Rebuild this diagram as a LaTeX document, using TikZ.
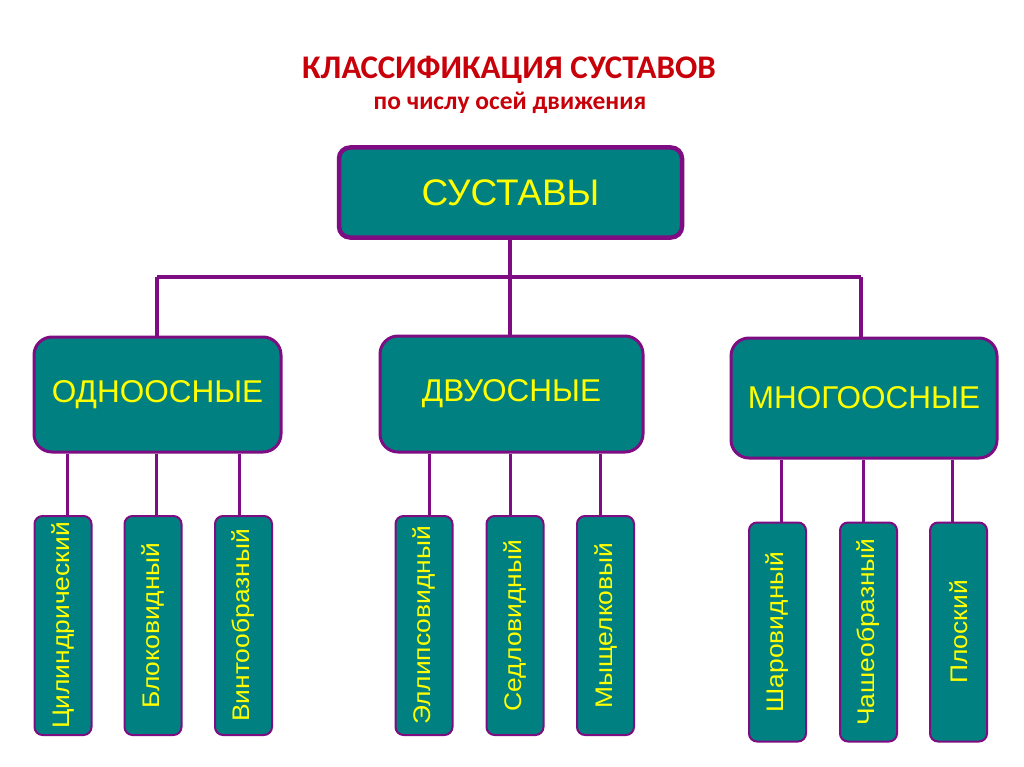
\documentclass[tikz,border=0pt]{standalone}
\usepackage{fontspec}
\setmainfont{Liberation Sans}
\newfontfamily\titlefont{Carlito}
\definecolor{tealfill}{HTML}{008080}
\definecolor{purpline}{HTML}{7E0C82}
\definecolor{txtyellow}{HTML}{FFFF00}
\definecolor{titlered}{HTML}{C8000A}
\tikzset{
  rootbox/.style={draw=purpline, line width=4.5pt, fill=tealfill, rounded corners=11pt,
    minimum width=343pt, minimum height=90pt, inner sep=0pt, text=txtyellow,
    font=\fontsize{37}{37}\selectfont},
  midbox/.style={draw=purpline, line width=3pt, fill=tealfill, rounded corners=18pt,
    inner sep=0pt, text=txtyellow, font=\fontsize{31.5}{32}\selectfont},
  leafbox/.style={draw=purpline, line width=2pt, fill=tealfill, rounded corners=8pt,
    minimum width=57pt, minimum height=219pt, inner sep=0pt, text=txtyellow,
    font=\fontsize{24}{24}\selectfont},
  conn/.style={draw=purpline, line width=3.5pt},
  leafconn/.style={draw=purpline, line width=3pt},
}
\newcommand{\vtext}[1]{\rotatebox{90}{\scalebox{1.1}[1]{#1}}}
\begin{document}
\begin{tikzpicture}[x=1pt,y=-1pt]
\useasboundingbox[fill=white] (0,0) rectangle (1024,767);
% titles
\node[text=titlered, font=\titlefont\bfseries\fontsize{33}{33}\selectfont] (title) at (509,70) {КЛАССИФИКАЦИЯ СУСТАВОВ};
\node[text=titlered, font=\titlefont\bfseries\fontsize{25.5}{25.5}\selectfont] (subtitle) at (510,103) {по числу осей движения};
% root
\node[rootbox] (root) at (510.5,192.5) {СУСТАВЫ};
% level 2
\node[midbox, minimum width=247pt, minimum height=115pt] (odno) at (157.5,394.5) {ОДНООСНЫЕ};
\node[midbox, minimum width=263pt, minimum height=116pt] (dvu) at (511.5,394) {ДВУОСНЫЕ};
\node[midbox, minimum width=266pt, minimum height=120pt] (mnogo) at (864,398) {МНОГООСНЫЕ};
% level 3
\node[leafbox] (c1) at (63,625.5) {\vtext{Цилиндрический}};
\node[leafbox] (c2) at (153,625.5) {\vtext{Блоковидный}};
\node[leafbox] (c3) at (243.5,625.5) {\vtext{Винтообразный}};
\node[leafbox] (c4) at (424,625.5) {\vtext{Эллипсовидный}};
\node[leafbox] (c5) at (515,625.5) {\vtext{Седловидный}};
\node[leafbox] (c6) at (605.5,625.5) {\vtext{Мыщелковый}};
\node[leafbox] (c7) at (777.5,632) {\vtext{Шаровидный}};
\node[leafbox] (c8) at (868.5,632) {\vtext{Чашеобразный}};
\node[leafbox] (c9) at (958.5,632) {\vtext{Плоский}};
% connector coordinates
\coordinate (bus) at (0,277);
\coordinate (xa) at (157,0);
\coordinate (xb) at (510,0);
\coordinate (xc) at (861,0);
\coordinate (x1) at (67,0);
\coordinate (x2) at (156.5,0);
\coordinate (x3) at (239,0);
\coordinate (x4) at (429,0);
\coordinate (x5) at (510,0);
\coordinate (x6) at (600,0);
\coordinate (x7) at (781,0);
\coordinate (x8) at (863,0);
\coordinate (x9) at (952,0);
% level 1 -> level 2
\draw[conn] (root.south -| xb) -- (bus -| xb);
\draw[conn] (bus -| xa) -- (bus -| xc);
\draw[conn] (bus -| xa) -- (odno.north -| xa);
\draw[conn] (bus -| xb) -- (dvu.north -| xb);
\draw[conn] (bus -| xc) -- (mnogo.north -| xc);
% level 2 -> level 3
\draw[leafconn] (odno.south -| x1) -- (c1.north -| x1);
\draw[leafconn] (odno.south -| x2) -- (c2.north -| x2);
\draw[leafconn] (odno.south -| x3) -- (c3.north -| x3);
\draw[leafconn] (dvu.south -| x4) -- (c4.north -| x4);
\draw[leafconn] (dvu.south -| x5) -- (c5.north -| x5);
\draw[leafconn] (dvu.south -| x6) -- (c6.north -| x6);
\draw[leafconn] (mnogo.south -| x7) -- (c7.north -| x7);
\draw[leafconn] (mnogo.south -| x8) -- (c8.north -| x8);
\draw[leafconn] (mnogo.south -| x9) -- (c9.north -| x9);
\end{tikzpicture}
\end{document}
